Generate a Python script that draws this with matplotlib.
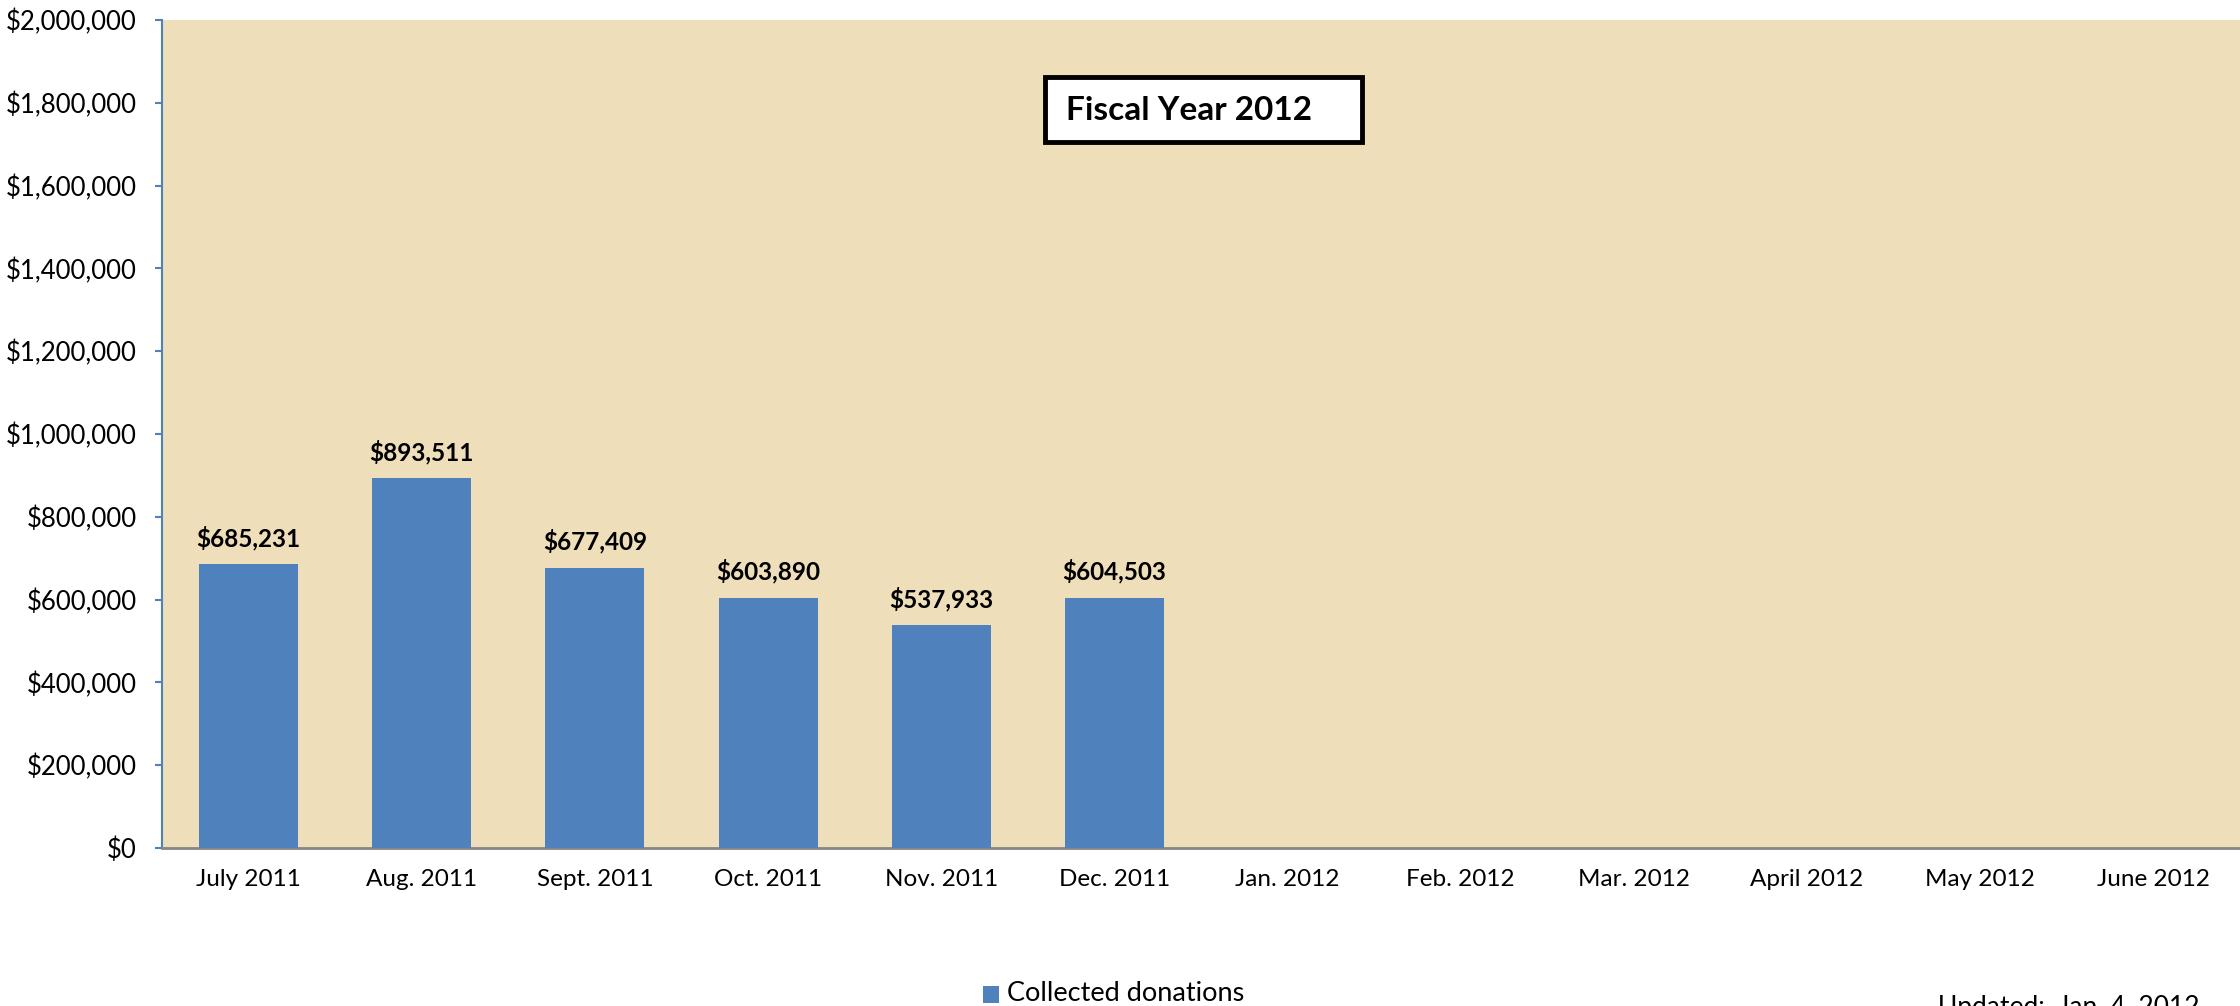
import matplotlib
matplotlib.use("Agg")
import matplotlib.pyplot as plt
from matplotlib.patches import Rectangle
from matplotlib.ticker import FuncFormatter, MultipleLocator

plt.rcParams['font.family'] = ['Lato', 'DejaVu Sans']

categories = ["July 2011", "Aug. 2011", "Sept. 2011", "Oct. 2011", "Nov. 2011", "Dec. 2011",
              "Jan. 2012", "Feb. 2012", "Mar. 2012", "April 2012", "May 2012", "June 2012"]
donations = [685231, 893511, 677409, 603890, 537933, 604503]
series_name = "Collected donations"
title_text = "Fiscal Year 2012"
updated_text = "Updated:  Jan. 4, 2012"

W, H = 2240, 1006
fig = plt.figure(figsize=(W / 100, H / 100), dpi=100)
fig.patch.set_facecolor("white")

left, right, top, bottom = 162, 2240, 20, 848
ax = fig.add_axes([left / W, 1 - bottom / H, (right - left) / W, (bottom - top) / H])
ax.set_facecolor("#EFDEBA")

x = list(range(len(categories)))
bars = ax.bar(x[:len(donations)], donations, width=0.572, color="#4F81BD", zorder=3)
ax.set_xlim(-0.5, len(categories) - 0.5)
ax.set_ylim(0, 2000000)
ax.set_xticks(x)
ax.set_xticklabels(categories)
ax.yaxis.set_major_locator(MultipleLocator(200000))
ax.yaxis.set_major_formatter(FuncFormatter(lambda v, p: "${:,.0f}".format(v)))

for b, v in zip(bars, donations):
    ax.annotate("${:,.0f}".format(v), (b.get_x() + b.get_width() / 2, v),
                xytext=(0, 19), textcoords="offset points", ha="center", va="center",
                fontsize=17.5, fontweight="bold", color="black")

for s in ["top", "right"]:
    ax.spines[s].set_visible(False)
ax.spines["left"].set_color("#4F81BD")
ax.spines["left"].set_linewidth(1.5)
ax.spines["bottom"].set_color("#868686")
ax.spines["bottom"].set_linewidth(2)
ax.tick_params(axis="y", direction="out", length=5, width=1.5, color="#4F81BD",
               labelsize=18.5, pad=13)
ax.tick_params(axis="x", length=0, labelsize=17.5, pad=15)

# Title box
bx0, by0, bx1, by1 = 1045, 77, 1362, 142
fig.patches.append(Rectangle((bx0 / W, 1 - by1 / H), (bx1 - bx0) / W, (by1 - by0) / H,
                             transform=fig.transFigure, facecolor="white",
                             edgecolor="black", linewidth=3.5, zorder=5))
fig.text(1066 / W, 1 - 111 / H, title_text, ha="left", va="center", fontsize=24,
         fontweight="bold", color="black", zorder=6)

# Legend
fig.patches.append(Rectangle((983 / W, 1 - 1003 / H), 16 / W, 17 / H,
                             transform=fig.transFigure, facecolor="#4F81BD",
                             edgecolor="none"))
fig.text(1007 / W, 1 - 981 / H, series_name, ha="left", va="top", fontsize=19.5, color="black")
fig.text(1938 / W, 1 - 995 / H, updated_text, ha="left", va="top", fontsize=19, color="black")

fig.savefig("out.png", dpi=100, facecolor="white")
